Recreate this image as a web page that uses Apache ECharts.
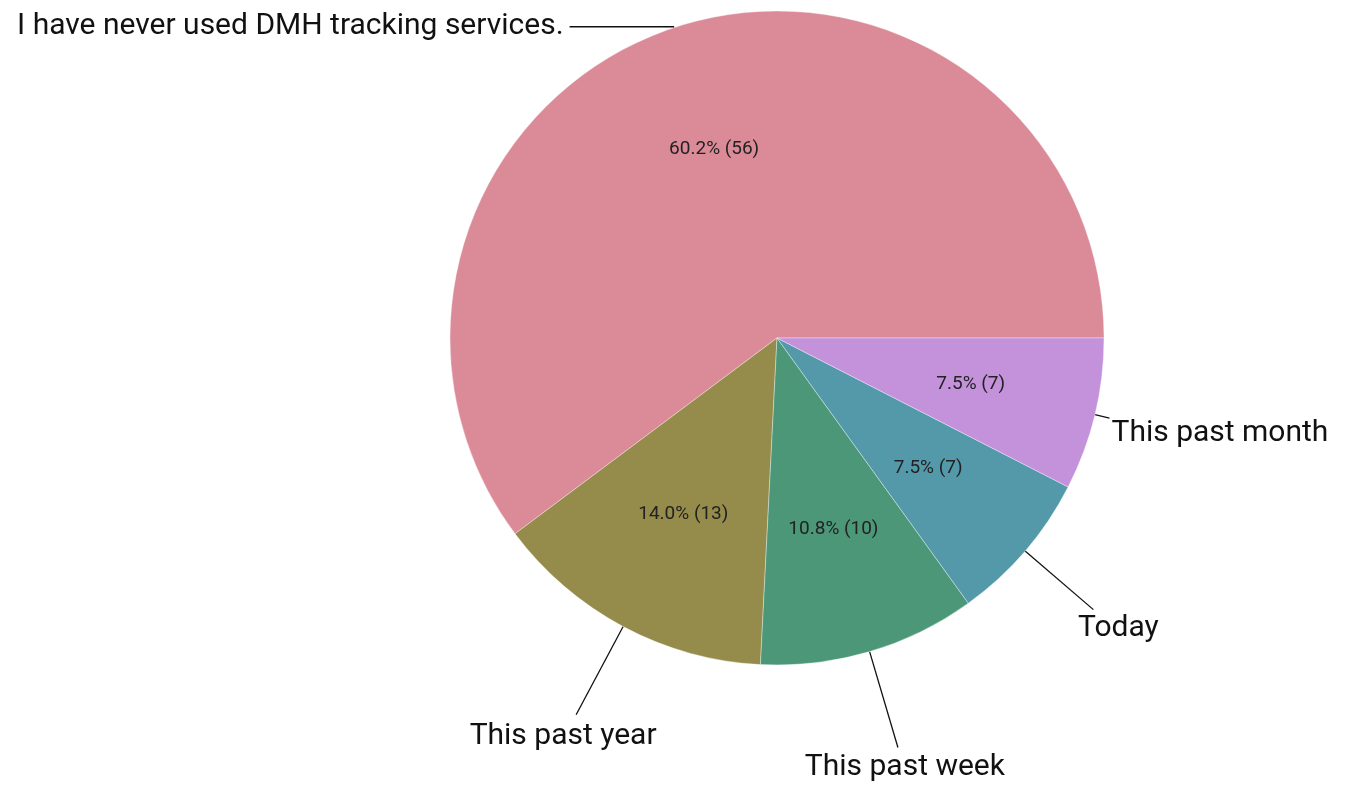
<!DOCTYPE html>
<html>
<head>
<meta charset="utf-8">
<script src="https://cdn.jsdelivr.net/npm/echarts@6/dist/echarts.min.js"></script>
<style>
html,body{margin:0;padding:0;background:#fff;}
#chart{width:1345px;height:785px;}
</style>
</head>
<body>
<div id="chart"></div>
<script>
const categories = ['I have never used DMH tracking services.', 'This past year', 'This past week', 'Today', 'This past month'];
const counts = [56, 13, 10, 7, 7];
const percents = ['60.2%', '14.0%', '10.8%', '7.5%', '7.5%'];

const colors = ['#DB8A98', '#958B4B', '#4C9778', '#5499AA', '#C491DB'];
// label line styling per slice: [radial length, horizontal length]
const lineLens = [[1, 104], [100, 0], [100, 0], [90, 0], [15, 0]];
// text placement relative to label-line end: [dx, dy, align]
const textOffsets = [[-6, 0, 'right'], [-13, 22, 'center'], [7, 20, 'center'], [25, 19, 'center'], [2, 15, 'left']];

const R = 327;
const center = [777, 338];
const FONT = 'Roboto, "Noto Sans", sans-serif';

const mainData = categories.map((c, i) => ({
  name: c,
  value: counts[i],
  itemStyle: { color: colors[i] },
  labelLine: { length: lineLens[i][0], length2: lineLens[i][1] }
}));
const innerData = categories.map((c, i) => ({ name: c, value: counts[i] }));

const chart = echarts.init(document.getElementById('chart'), null, { renderer: 'canvas' });
chart.setOption({
  animation: false,
  backgroundColor: '#ffffff',
  series: [
    {
      type: 'pie',
      center: center,
      radius: R,
      startAngle: 0,
      clockwise: false,
      avoidLabelOverlap: false,
      silent: true,
      itemStyle: { borderColor: 'rgba(255,255,255,0.6)', borderWidth: 0.6 },
      label: {
        show: true,
        position: 'outside',
        formatter: '{b}',
        fontFamily: FONT,
        fontSize: 30,
        color: '#111',
        overflow: 'none'
      },
      labelLine: { show: true, lineStyle: { color: '#111', width: 1.3 } },
      labelLayout: function (p) {
        const pts = p.labelLinePoints;
        if (!pts) return {};
        const end = pts[pts.length - 1];
        const o = textOffsets[p.dataIndex];
        return {
          x: end[0] + o[0],
          y: end[1] + o[1],
          align: o[2],
          verticalAlign: 'middle',
          labelLinePoints: pts
        };
      },
      data: mainData
    },
    {
      type: 'pie',
      center: center,
      radius: [R * 0.2, R],
      startAngle: 0,
      clockwise: false,
      avoidLabelOverlap: false,
      silent: true,
      itemStyle: { color: 'rgba(0,0,0,0)' },
      label: {
        show: true,
        position: 'inside',
        formatter: function (p) { return percents[p.dataIndex] + ' (' + counts[p.dataIndex] + ')'; },
        fontFamily: FONT,
        fontSize: 19,
        color: '#222'
      },
      labelLine: { show: false },
      data: innerData
    }
  ]
});
</script>
</body>
</html>
